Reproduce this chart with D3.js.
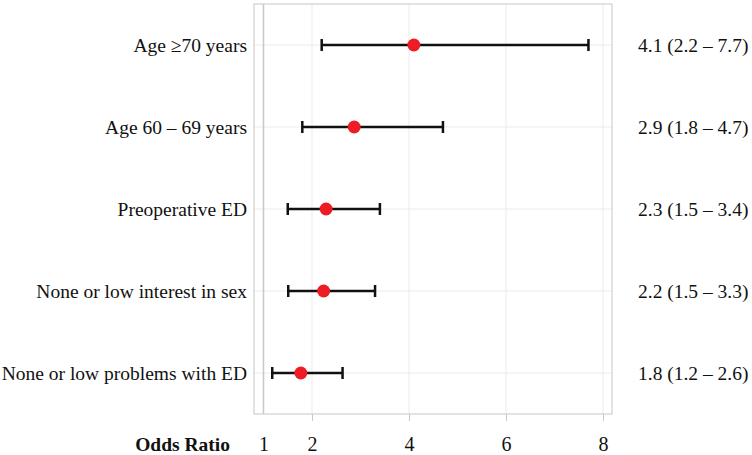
<!DOCTYPE html>
<html>
<head>
<meta charset="utf-8">
<script src="https://cdn.jsdelivr.net/npm/d3@7"></script>
<style>
  body { margin: 0; background: #fff; }
  svg { display: block; }
  svg text { font-family: "Liberation Serif", "Times New Roman", serif; fill: #111; }
</style>
</head>
<body>
<div id="chart"></div>
<script>
"use strict";

// factors, top to bottom
var factors = ["Age \u226570 years", "Age 60 \u2013 69 years", "Preoperative ED",
	"None or low interest in sex", "None or low problems with ED"];
var oddsRatio = [4.1, 2.87, 2.29, 2.24, 1.77];
var lowerCI = [2.2, 1.8, 1.5, 1.51, 1.18];
var upperCI = [7.7, 4.7, 3.4, 3.3, 2.63];
var xTicks = [1, 2, 4, 6, 8];
var gridTicks = [2, 4, 6, 8];

var svg = d3.select("#chart").append("svg")
	.attr("width", 752).attr("height", 455);

var panel = {left: 254, right: 612, top: 4, bottom: 414};
var fontSize = 19.5;

var x = d3.scaleLinear().domain([1, 8]).range([263.5, 603]);
var y = d3.scalePoint().domain(factors)
	.range([panel.top, panel.bottom]).padding(0.5);

var fmt = d3.format(".1f");
var rows = factors.map(function(f, i) {
	return {name: f, or: oddsRatio[i], lo: lowerCI[i], hi: upperCI[i]};
});

// grid
var g = svg.append("g");
g.selectAll(".vgrid").data(gridTicks).enter().append("line")
	.attr("x1", function(d) { return x(d); }).attr("x2", function(d) { return x(d); })
	.attr("y1", panel.top).attr("y2", panel.bottom)
	.attr("stroke", "#ebebeb").attr("stroke-width", 1);
g.selectAll(".hgrid").data(factors).enter().append("line")
	.attr("x1", panel.left).attr("x2", panel.right)
	.attr("y1", function(d) { return y(d); }).attr("y2", function(d) { return y(d); })
	.attr("stroke", "#ebebeb").attr("stroke-width", 1);

// reference line at OR = 1
g.append("line")
	.attr("x1", x(1)).attr("x2", x(1))
	.attr("y1", panel.top).attr("y2", panel.bottom)
	.attr("stroke", "#c8c8c8").attr("stroke-width", 1.5);

// panel border
g.append("rect")
	.attr("x", panel.left).attr("y", panel.top)
	.attr("width", panel.right - panel.left).attr("height", panel.bottom - panel.top)
	.attr("fill", "none").attr("stroke", "#d0d0d0").attr("stroke-width", 1.2);

// x axis
var axis = svg.append("g")
	.attr("transform", "translate(0," + panel.bottom + ")")
	.call(d3.axisBottom(x).tickValues(xTicks).tickSize(7).tickPadding(16).tickFormat(d3.format("d")))
	.attr("font-family", null)
	.attr("font-size", null);
axis.select(".domain").remove();
axis.selectAll(".tick line").attr("stroke", function(d) { return d == 1 ? "none" : "#c8c8c8"; });
axis.selectAll(".tick text")
	.style("font-family", "'Liberation Serif', serif")
	.style("font-size", "20px");

svg.append("text")
	.attr("x", 230).attr("y", 451)
	.attr("text-anchor", "end")
	.style("font-size", fontSize + "px").attr("font-weight", "bold")
	.text("Odds Ratio");

// labels on the left
svg.selectAll(".lab").data(rows).enter().append("text")
	.attr("x", 247).attr("y", function(d) { return y(d.name); })
	.attr("dy", "0.35em").attr("text-anchor", "end")
	.style("font-size", fontSize + "px")
	.text(function(d) { return d.name; });

// values on the right
svg.selectAll(".val").data(rows).enter().append("text")
	.attr("x", 638).attr("y", function(d) { return y(d.name); })
	.attr("dy", "0.35em")
	.style("font-size", fontSize + "px")
	.text(function(d) { return fmt(d.or) + " (" + fmt(d.lo) + " \u2013 " + fmt(d.hi) + ")"; });

// error bars
var bars = svg.selectAll(".bar").data(rows).enter().append("g");
bars.append("line")
	.attr("x1", function(d) { return x(d.lo); }).attr("x2", function(d) { return x(d.hi); })
	.attr("y1", function(d) { return y(d.name); }).attr("y2", function(d) { return y(d.name); })
	.attr("stroke", "#111").attr("stroke-width", 2.5);
bars.append("line")
	.attr("x1", function(d) { return x(d.lo); }).attr("x2", function(d) { return x(d.lo); })
	.attr("y1", function(d) { return y(d.name) - 6; }).attr("y2", function(d) { return y(d.name) + 6; })
	.attr("stroke", "#111").attr("stroke-width", 2.5);
bars.append("line")
	.attr("x1", function(d) { return x(d.hi); }).attr("x2", function(d) { return x(d.hi); })
	.attr("y1", function(d) { return y(d.name) - 6; }).attr("y2", function(d) { return y(d.name) + 6; })
	.attr("stroke", "#111").attr("stroke-width", 2.5);
bars.append("circle")
	.attr("cx", function(d) { return x(d.or); }).attr("cy", function(d) { return y(d.name); })
	.attr("r", 6.5).attr("fill", "#ee1c25");
</script>
</body>
</html>
